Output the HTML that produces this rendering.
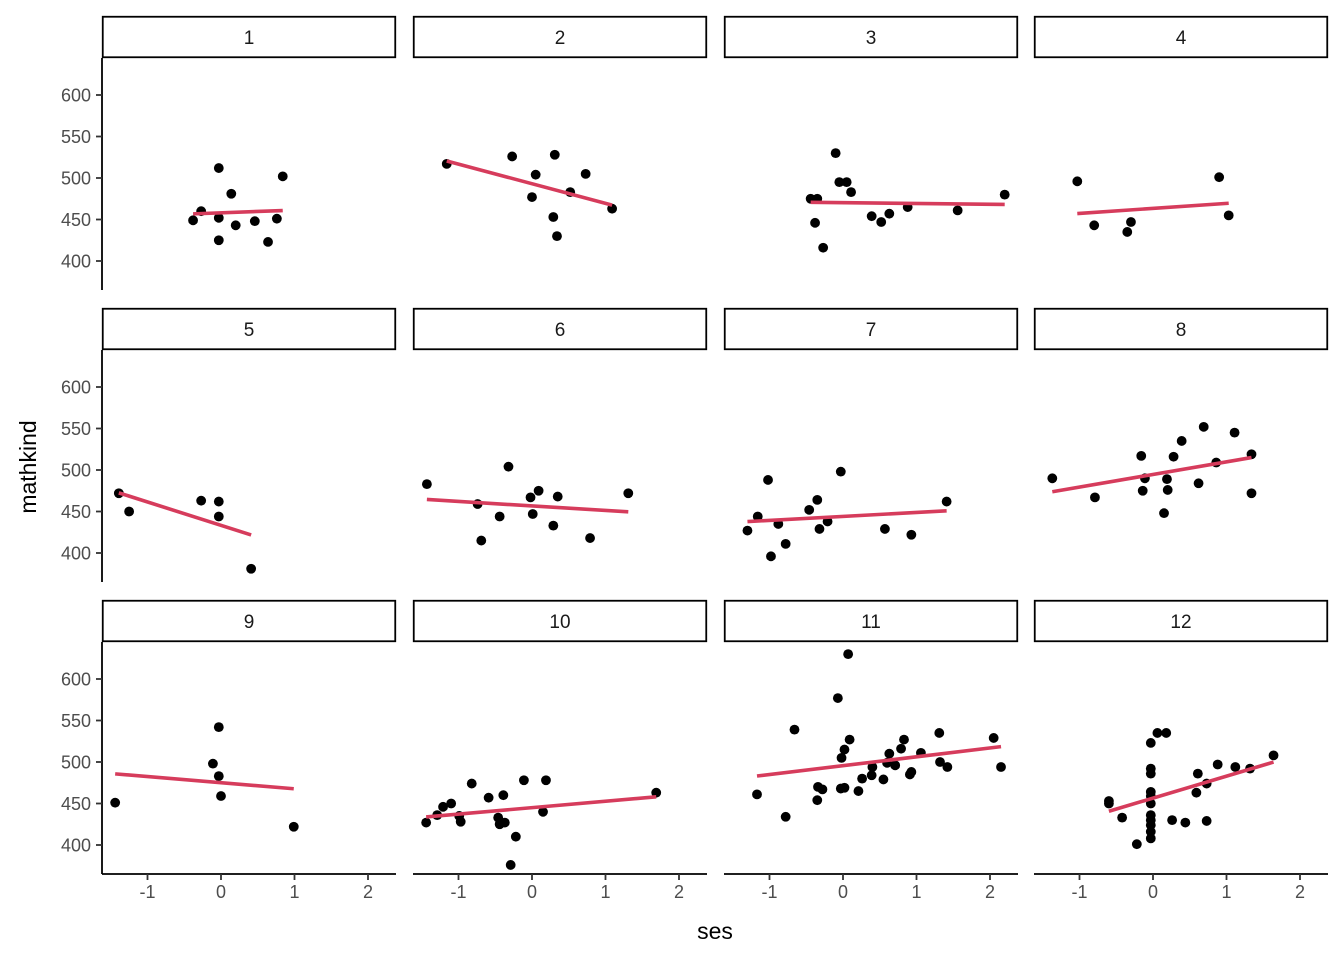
<!DOCTYPE html>
<html><head><meta charset="utf-8"><style>
body{margin:0;background:#fff}
svg{display:block;font-family:"Liberation Sans",sans-serif}
</style></head><body>
<svg id="chart" width="1344" height="960"></svg>
<script>
const panelIds=["1","2","3","4","5","6","7","8","9","10","11","12"];
const sesVals=[
[-0.38,-0.27,-0.03,-0.03,-0.03,0.14,0.2,0.46,0.64,0.76,0.84],
[-1.16,-0.27,0.05,0,0.31,0.29,0.52,0.34,0.73,1.09],
[-0.1,-0.44,-0.35,-0.38,-0.27,-0.05,0.05,0.11,0.39,0.52,0.63,0.88,1.56,2.2],
[-1.03,-0.8,-0.3,-0.35,0.9,1.03],
[-1.39,-1.25,-0.27,-0.03,-0.03,0.41],
[-1.43,-0.74,-0.32,-0.69,-0.44,-0.02,0.09,0.01,0.35,0.29,0.79,1.31],
[-1.30,-1.16,-1.02,-0.88,-0.78,-0.98,-0.46,-0.35,-0.21,-0.32,-0.03,0.57,0.93,1.41],
[-1.37,-0.79,-0.16,-0.11,-0.14,0.15,0.19,0.20,0.28,0.39,0.69,0.62,0.86,1.11,1.34,1.34],
[-1.44,-0.11,-0.03,-0.03,0,0.99],
[-1.44,-1.29,-1.21,-1.10,-0.99,-0.97,-0.82,-0.59,-0.44,-0.39,-0.46,-0.37,-0.22,-0.29,-0.11,0.15,0.19,1.69],
[-1.17,-0.78,-0.66,0.07,-0.07,0.09,0.02,-0.02,-0.34,-0.28,-0.35,-0.03,0.02,0.21,0.26,0.40,0.39,0.55,0.63,0.60,0.71,0.79,0.83,0.91,0.93,1.06,1.31,1.32,1.42,2.05,2.15],
[-0.60,-0.60,-0.42,-0.22,-0.03,0.06,0.18,-0.03,-0.03,-0.03,-0.03,-0.03,-0.03,-0.03,-0.03,-0.03,-0.03,0.26,0.44,0.61,0.59,0.73,0.73,0.88,1.12,1.32,1.64]
];
const mathVals=[
[449,460,512,452,425,481,443,448,423,451,502],
[517,526,504,477,528,453,483,430,505,463],
[530,475,475,446,416,495,495,483,454,447,457,465,461,480],
[496,443,447,435,501,455],
[472,450,463,462,444,381],
[483,459,504,415,444,467,475,447,468,433,418,472],
[427,444,488,435,411,396,452,464,438,429,498,429,422,462],
[490,467,517,490,475,448,489,476,516,535,552,484,509,545,519,472],
[451,498,542,483,459,422],
[427,436,446,450,435,428,474,457,425,460,433,427,410,376,478,440,478,463],
[461,434,539,630,577,527,515,505,470,467,454,468,469,465,480,494,484,479,510,499,496,516,527,485,488,511,535,500,494,529,494],
[453,450,433,401,523,535,535,492,486,464,459,450,436,430,424,416,408,430,427,486,463,474,429,497,494,492,508]
];
const yTicks=[400,450,500,550,600];
const xTicks=[-1,0,1,2];

const NS="http://www.w3.org/2000/svg";
const svg=document.getElementById('chart');
function mk(t,a,p){const e=document.createElementNS(NS,t);for(const k in a)e.setAttribute(k,a[k]);(p||svg).appendChild(e);return e;}
const colLeft=[102,413,724,1034], pw=294;
const rowTop=[58,350,642], ph=232;
function xs(c,v){return colLeft[c]+119+v*73.5;}
function ys(r,v){return rowTop[r]+37+(600-v)*0.83;}

for(let i=0;i<panelIds.length;i++){
  const c=i%4,r=Math.floor(i/4);
  const g=mk('g',{});
  
  
  const st=mk('rect',{x:colLeft[c]+0.75,y:rowTop[r]-42+0.75,width:pw-1.5,height:40.5,fill:'#fff',stroke:'#000','stroke-width':1.8},g);
  
  
  const tx=mk('text',{x:colLeft[c]+pw/2,y:rowTop[r]-14,'text-anchor':'middle','font-size':19,fill:'#1a1a1a'},g);
  tx.textContent=panelIds[i];
  
  
  const xv=sesVals[i],yv=mathVals[i],n=xv.length;
  let mx=0,my=0;for(let k=0;k<n;k++){mx+=xv[k];my+=yv[k];}mx/=n;my/=n;
  let sxy=0,sxx=0;for(let k=0;k<n;k++){sxy+=(xv[k]-mx)*(yv[k]-my);sxx+=(xv[k]-mx)**2;}
  const b=sxy/sxx,a=my-b*mx;
  const x0=Math.min(...xv),x1=Math.max(...xv);
  for(let k=0;k<n;k++){
    const p=mk('circle',{cx:xs(c,xv[k]),cy:ys(r,yv[k]),r:4.9,fill:'#000'},g);
    
    
  }
  const ln=mk('line',{x1:xs(c,x0),y1:ys(r,a+b*x0),x2:xs(c,x1),y2:ys(r,a+b*x1),stroke:'#d63c5c','stroke-width':3.6},g);
  
  
  if(c===0){
    const ax=mk('line',{x1:102,y1:rowTop[r],x2:102,y2:rowTop[r]+ph,stroke:'#000','stroke-width':1.8},g);
    
    
    for(const t of yTicks){
      mk('line',{x1:96,x2:102,y1:ys(r,t),y2:ys(r,t),stroke:'#333','stroke-width':1.8},g);
      const l=mk('text',{x:91,y:ys(r,t)+6.5,'text-anchor':'end','font-size':18,fill:'#4d4d4d'},g);
      l.textContent=t;
      
      
    }
  }
  if(r===2){
    const ax=mk('line',{x1:colLeft[c],y1:874,x2:colLeft[c]+pw,y2:874,stroke:'#000','stroke-width':1.8},g);
    
    
    for(const t of xTicks){
      mk('line',{x1:xs(c,t),x2:xs(c,t),y1:874,y2:880,stroke:'#333','stroke-width':1.8},g);
      const l=mk('text',{x:xs(c,t),y:898,'text-anchor':'middle','font-size':18,fill:'#4d4d4d'},g);
      l.textContent=t<0?'-'+Math.abs(t):t;
      
      
    }
  }
}
const xt=mk('text',{x:715,y:939,'text-anchor':'middle','font-size':23,fill:'#000'});
xt.textContent='ses';


const yt=mk('text',{x:36,y:467,'text-anchor':'middle','font-size':23,fill:'#000',transform:'rotate(-90 36 467)'});
yt.textContent='mathkind';


</script>
</body></html>
